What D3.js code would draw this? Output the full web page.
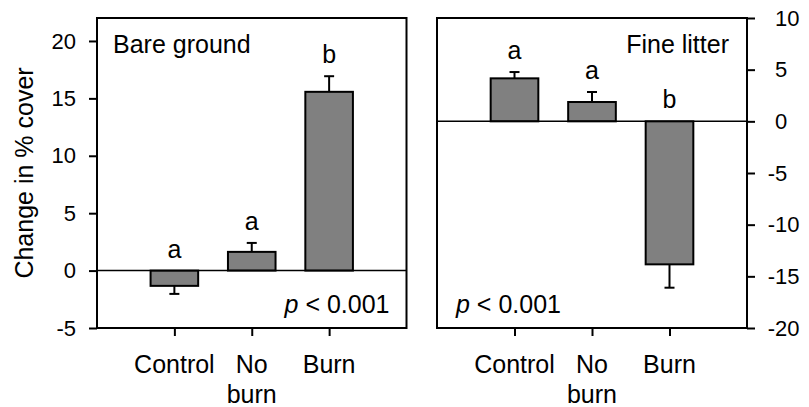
<!DOCTYPE html>
<html>
<head>
<meta charset="utf-8">
<script src="https://cdn.jsdelivr.net/npm/d3@7"></script>
<style>
  html, body { margin: 0; padding: 0; background: #fff; }
  svg { display: block; font-family: "Liberation Sans", Arial, sans-serif; }
</style>
</head>
<body>
<svg id="chart" width="809" height="407"></svg>
<script>
// ---- data ----
const categories = ["Control", "No burn", "Burn"];
const bareMeans = [-1.33, 1.63, 15.57];
const bareErrors = [0.70, 0.78, 1.36];
const bareLetters = ["a", "a", "b"];
const litterMeans = [4.16, 1.87, -13.84];
const litterErrors = [0.61, 0.97, 2.26];
const litterLetters = ["a", "a", "b"];
const leftTicks = [-5, 0, 5, 10, 15, 20];
const rightTicks = [-20, -15, -10, -5, 0, 5, 10];
const yTitle = "Change in % cover";
const panelTitles = ["Bare ground", "Fine litter"];
const pText = "< 0.001";

// ---- layout ----
const svg = d3.select("#chart");
const plotTop = 18, plotBottom = 328;
const tickFont = 22, labelFont = 25;

const panels = [
  { x0: 97, x1: 406.5, domain: [-5, 22], ticks: leftTicks, means: bareMeans, errs: bareErrors,
    letters: bareLetters, title: panelTitles[0], side: "left" },
  { x0: 437, x1: 747, domain: [-20, 10], ticks: rightTicks, means: litterMeans, errs: litterErrors,
    letters: litterLetters, title: panelTitles[1], side: "right" }
];

panels.forEach(p => {
  const g = svg.append("g");
  const x = d3.scalePoint().domain(categories).range([p.x0, p.x1]).padding(1);
  const y = d3.scaleLinear().domain(p.domain).range([plotBottom, plotTop]);
  const barW = x.step() * 0.615;
  const data = categories.map((c, i) => ({ c, m: p.means[i], e: p.errs[i], l: p.letters[i] }));

  // bars
  g.selectAll("rect.bar").data(data).enter().append("rect")
    .attr("x", d => x(d.c) - barW / 2)
    .attr("width", barW)
    .attr("y", d => y(Math.max(0, d.m)))
    .attr("height", d => Math.abs(y(d.m) - y(0)))
    .attr("fill", "#808080").attr("stroke", "#000").attr("stroke-width", 2);

  // error bars (one-sided)
  const errEnd = d => d.m >= 0 ? d.m + d.e : d.m - d.e;
  g.selectAll("line.err").data(data).enter().append("line")
    .attr("x1", d => x(d.c)).attr("x2", d => x(d.c))
    .attr("y1", d => y(d.m)).attr("y2", d => y(errEnd(d)))
    .attr("stroke", "#000").attr("stroke-width", 2);
  g.selectAll("line.cap").data(data).enter().append("line")
    .attr("x1", d => x(d.c) - 5).attr("x2", d => x(d.c) + 5)
    .attr("y1", d => y(errEnd(d))).attr("y2", d => y(errEnd(d)))
    .attr("stroke", "#000").attr("stroke-width", 2);

  // zero line
  g.append("line").attr("x1", p.x0).attr("x2", p.x1)
    .attr("y1", y(0)).attr("y2", y(0)).attr("stroke", "#000").attr("stroke-width", 1.5);

  // letters
  g.selectAll("text.letter").data(data).enter().append("text")
    .attr("x", d => x(d.c))
    .attr("y", d => y(Math.max(0, errEnd(d))) - 13)
    .attr("text-anchor", "middle").attr("font-size", labelFont).text(d => d.l);

  // frame
  g.append("rect").attr("x", p.x0).attr("y", plotTop)
    .attr("width", p.x1 - p.x0).attr("height", plotBottom - plotTop)
    .attr("fill", "none").attr("stroke", "#000").attr("stroke-width", 2);

  // x axis ticks and labels
  const xAxis = d3.axisBottom(x).tickSize(8).tickFormat("");
  const xg = g.append("g").attr("transform", `translate(0,${plotBottom})`).call(xAxis);
  xg.select(".domain").remove();
  xg.selectAll(".tick line").attr("stroke", "#000").attr("stroke-width", 2);
  const lab = g.selectAll("text.cat").data(categories).enter().append("text")
    .attr("text-anchor", "middle").attr("font-size", labelFont)
    .attr("x", d => x(d)).attr("y", 373);
  lab.each(function(d) {
    const parts = d.split(" ");
    d3.select(this).selectAll("tspan").data(parts).enter().append("tspan")
      .attr("x", x(d)).attr("dy", (s, i) => i === 0 ? 0 : 29.5).text(s => s);
  });

  // y axis
  if (p.side === "left") {
    const ya = d3.axisLeft(y).tickValues(p.ticks).tickSize(8).tickPadding(13);
    const yg = g.append("g").attr("transform", `translate(${p.x0},0)`).call(ya);
    yg.select(".domain").remove();
    yg.selectAll(".tick line").attr("stroke", "#000").attr("stroke-width", 2);
    yg.selectAll(".tick text").attr("font-size", tickFont).attr("fill", "#000")
      .attr("font-family", "Liberation Sans, Arial, sans-serif")
      .text(d => d < 0 ? "-" + Math.abs(d) : String(d));
  } else {
    const ya = d3.axisRight(y).tickValues(p.ticks).tickSize(8).tickPadding(20);
    const yg = g.append("g").attr("transform", `translate(${p.x1},0)`).call(ya);
    yg.select(".domain").remove();
    yg.selectAll(".tick line").attr("stroke", "#000").attr("stroke-width", 2);
    yg.selectAll(".tick text").attr("font-size", tickFont).attr("fill", "#000")
      .attr("font-family", "Liberation Sans, Arial, sans-serif")
      .text(d => d < 0 ? "-" + Math.abs(d) : String(d))
      .attr("dx", d => d < 0 ? "-0.333em" : 0);
  }

  // panel title
  g.append("text").attr("font-size", labelFont).attr("y", 53)
    .attr("x", p.side === "left" ? p.x0 + 16 : p.x1 - 18)
    .attr("text-anchor", p.side === "left" ? "start" : "end")
    .text(p.title);

  // p value
  const pt = g.append("text").attr("font-size", labelFont).attr("y", 313)
    .attr("x", p.side === "left" ? p.x1 - 17 : p.x0 + 19)
    .attr("text-anchor", p.side === "left" ? "end" : "start");
  pt.append("tspan").attr("font-style", "italic").text("p");
  pt.append("tspan").text(" " + pText);
});

// y title
svg.append("text").attr("font-size", labelFont).attr("text-anchor", "middle")
  .attr("transform", "translate(33,173) rotate(-90)").text(yTitle);
</script>
</body>
</html>
